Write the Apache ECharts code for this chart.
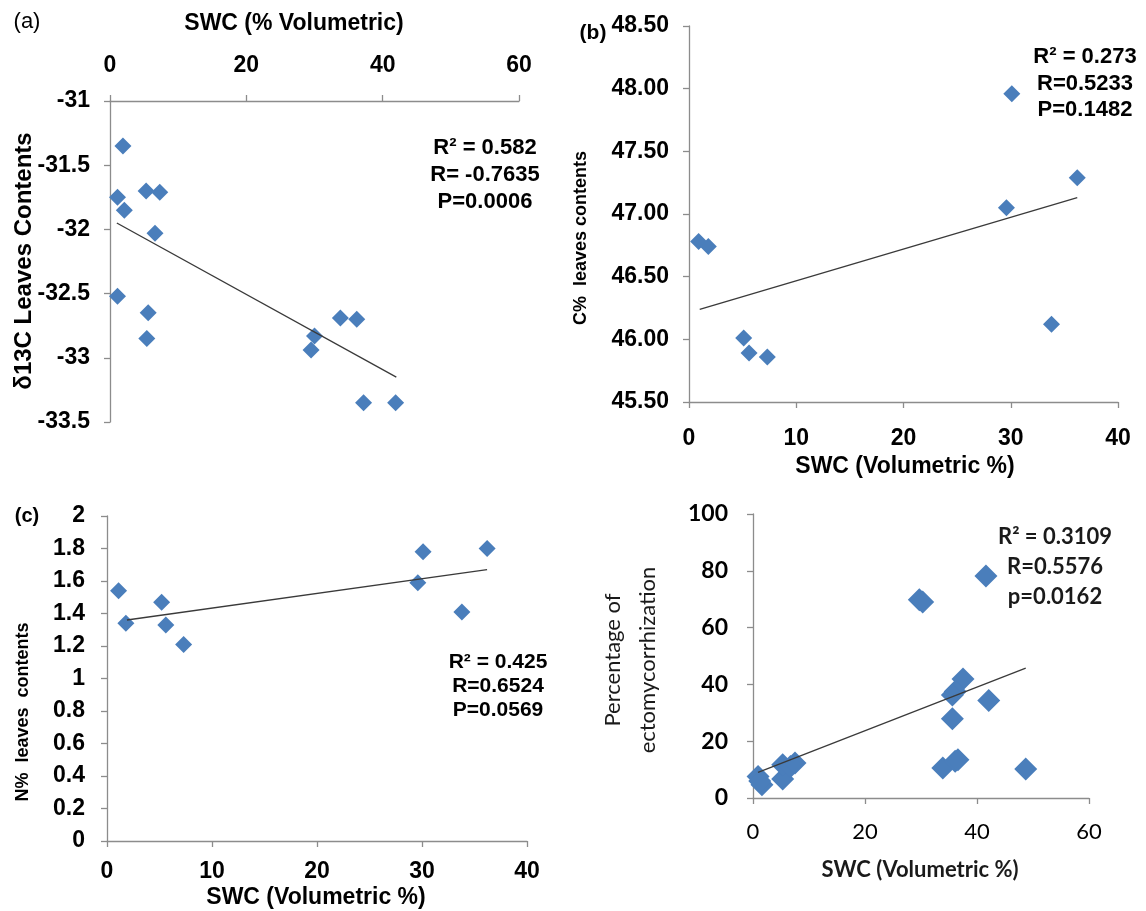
<!DOCTYPE html>
<html>
<head>
<meta charset="utf-8">
<script src="https://cdn.jsdelivr.net/npm/echarts@6/dist/echarts.min.js"></script>
<style>
html,body{margin:0;padding:0;background:#fff;}
#c{width:1146px;height:911px;}
</style>
</head>
<body>
<div id="c"></div>
<script>
// ---- Panel (a): delta13C vs SWC ----
const aSWC = [1.9, 1.1, 2.1, 5.3, 7.3, 6.6, 1.1, 5.6, 5.4, 33.8, 36.2, 30.0, 29.5, 37.2, 41.9];
const aD13C = [-31.35, -31.75, -31.85, -31.70, -31.71, -32.03, -32.52, -32.65, -32.85, -32.69, -32.70, -32.83, -32.94, -33.35, -33.35];
const aTrendX = [1.0, 42.0];
const aTrendY = [-31.95, -33.15];
const aStats = ["R\u00B2 = 0.582", "R= -0.7635", "P=0.0006"];

// ---- Panel (b): C% vs SWC ----
const bSWC = [0.9, 1.8, 30.1, 36.2, 29.6, 33.8, 5.1, 5.6, 7.3];
const bC = [46.78, 46.74, 47.96, 47.29, 47.05, 46.12, 46.01, 45.89, 45.86];
const bTrendX = [1.0, 36.2];
const bTrendY = [46.24, 47.13];
const bStats = ["R\u00B2 = 0.273", "R=0.5233", "P=0.1482"];

// ---- Panel (c): N% vs SWC ----
const cSWC = [1.1, 1.8, 5.2, 5.6, 7.3, 29.6, 30.1, 36.2, 33.8];
const cN = [1.54, 1.34, 1.47, 1.33, 1.21, 1.59, 1.78, 1.80, 1.41];
const cTrendX = [1.9, 36.2];
const cTrendY = [1.36, 1.67];
const cStats = ["R\u00B2 = 0.425", "R=0.6524", "P=0.0569"];

// ---- Panel (d): ectomycorrhization vs SWC ----
const dSWC = [0.9, 1.6, 1.2, 5.3, 5.3, 6.7, 7.5, 29.7, 30.3, 41.6, 37.5, 36.1, 35.6, 35.6, 42.1, 33.9, 36.1, 36.6, 48.7];
const dEcto = [7.6, 4.7, 6.0, 6.7, 11.7, 11.1, 12.3, 69.8, 69.0, 78.2, 41.9, 37.5, 36.3, 27.9, 34.3, 10.6, 12.9, 13.5, 10.2];
const dTrendX = [0.9, 48.7];
const dTrendY = [9.0, 45.7];
const dStats = ["R\u00B2 = 0.3109", "R=0.5576", "p=0.0162"];

const pts = (xs, ys) => xs.map((x, i) => [x, ys[i]]);

const ARIAL = '"Liberation Sans", Arial, sans-serif';
const CAL = 'Lato, "Open Sans", sans-serif';
const BLUE = '#4A7EBB';
const AXC = '#8c8c8c';

function axisCommon(fontFamily, bold, size, margin, fmt) {
  const lbl = {color: '#000', fontFamily: fontFamily, fontWeight: bold ? 'bold' : 'normal', fontSize: size, margin: margin};
  if (fmt) lbl.formatter = fmt;
  return {
    axisLine: {show: true, lineStyle: {color: AXC, width: 1.3}},
    axisTick: {show: true, length: 6, lineStyle: {color: AXC, width: 1.3}},
    splitLine: {show: false},
    axisLabel: lbl
  };
}

const chart = echarts.init(document.getElementById('c'));

function text(t, x, y, size, family, opts) {
  opts = opts || {};
  return {
    type: 'text', x: x, y: y, rotation: opts.rot || 0, z: 100,
    style: {
      text: t, fontSize: size, fontFamily: family,
      fontWeight: opts.normal ? 'normal' : 'bold',
      fill: opts.color || '#000', align: opts.align || 'center', verticalAlign: 'middle',
      lineHeight: opts.lh || size * 1.2
    }
  };
}

const graphics = [];
graphics.push(text('(a)', 27, 22, 22, ARIAL, {normal: true}));
graphics.push(text('SWC (% Volumetric)', 294, 24, 23, ARIAL));
graphics.push(text('\u03B413C Leaves Contents', 24, 261, 24, ARIAL, {rot: Math.PI / 2}));
aStats.forEach((s, i) => graphics.push(text(s, 485, 148 + i * 27, 22, ARIAL)));

graphics.push(text('(b)', 593, 33, 21, ARIAL));
graphics.push(text('C%  leaves contents', 581, 238, 18, ARIAL, {rot: Math.PI / 2}));
graphics.push(text('SWC (Volumetric %)', 905, 467, 23, ARIAL));
bStats.forEach((s, i) => graphics.push(text(s, 1085, 57 + i * 26.5, 22, ARIAL)));

graphics.push(text('(c)', 27, 516, 20, ARIAL));
graphics.push(text('N%  leaves  contents', 23, 712, 18, ARIAL, {rot: Math.PI / 2}));
graphics.push(text('SWC (Volumetric %)', 316, 898, 23, ARIAL));
cStats.forEach((s, i) => graphics.push(text(s, 498, 662 + i * 24, 21, ARIAL)));

graphics.push(text('Percentage of\nectomycorrhization', 630, 660, 22, CAL, {rot: Math.PI / 2, normal: true, lh: 35, color: '#1a1a1a'}));
graphics.push(text('SWC (Volumetric %)', 920, 870, 22, CAL, {color: '#1a1a1a'}));
dStats.forEach((s, i) => graphics.push(text(s, 1055, 537 + i * 30, 22, CAL, {color: '#1a1a1a'})));

const opaque = {color: BLUE, opacity: 1};
const trendStyle = {color: '#3a3a3a', width: 1.3};

const option = {
  animation: false,
  backgroundColor: '#fff',
  grid: [
    {left: 110, top: 101, width: 409, height: 321},
    {left: 689, top: 26, width: 429, height: 376},
    {left: 107, top: 516, width: 420, height: 325},
    {left: 753, top: 514, width: 336, height: 284}
  ],
  xAxis: [
    Object.assign({gridIndex: 0, type: 'value', position: 'top', min: 0, max: 60, interval: 20}, axisCommon(ARIAL, true, 23, 24)),
    Object.assign({gridIndex: 1, type: 'value', min: 0, max: 40, interval: 10}, axisCommon(ARIAL, true, 23, 25)),
    Object.assign({gridIndex: 2, type: 'value', min: 0, max: 40, interval: 10}, axisCommon(ARIAL, true, 23, 19)),
    Object.assign({gridIndex: 3, type: 'value', min: 0, max: 60, interval: 20}, axisCommon(CAL, false, 22, 23))
  ],
  yAxis: [
    Object.assign({gridIndex: 0, type: 'value', min: -33.5, max: -31, interval: 0.5}, axisCommon(ARIAL, true, 23, 20)),
    Object.assign({gridIndex: 1, type: 'value', min: 45.5, max: 48.5, interval: 0.5}, axisCommon(ARIAL, true, 23, 20, v => v.toFixed(2))),
    Object.assign({gridIndex: 2, type: 'value', min: 0, max: 2, interval: 0.2}, axisCommon(ARIAL, true, 23, 22)),
    Object.assign({gridIndex: 3, type: 'value', min: 0, max: 100, interval: 20}, axisCommon(CAL, true, 23, 25))
  ],
  graphic: graphics,
  series: [
    {type: 'scatter', xAxisIndex: 0, yAxisIndex: 0, symbol: 'diamond', symbolSize: 17, itemStyle: opaque, data: pts(aSWC, aD13C)},
    {type: 'line', xAxisIndex: 0, yAxisIndex: 0, showSymbol: false, symbol: 'none', lineStyle: trendStyle, data: pts(aTrendX, aTrendY), z: 5},
    {type: 'scatter', xAxisIndex: 1, yAxisIndex: 1, symbol: 'diamond', symbolSize: 17, itemStyle: opaque, data: pts(bSWC, bC)},
    {type: 'line', xAxisIndex: 1, yAxisIndex: 1, showSymbol: false, symbol: 'none', lineStyle: trendStyle, data: pts(bTrendX, bTrendY), z: 5},
    {type: 'scatter', xAxisIndex: 2, yAxisIndex: 2, symbol: 'diamond', symbolSize: 17, itemStyle: opaque, data: pts(cSWC, cN)},
    {type: 'line', xAxisIndex: 2, yAxisIndex: 2, showSymbol: false, symbol: 'none', lineStyle: trendStyle, data: pts(cTrendX, cTrendY), z: 5},
    {type: 'scatter', xAxisIndex: 3, yAxisIndex: 3, symbol: 'diamond', symbolSize: 23, itemStyle: opaque, data: pts(dSWC, dEcto)},
    {type: 'line', xAxisIndex: 3, yAxisIndex: 3, showSymbol: false, symbol: 'none', lineStyle: trendStyle, data: pts(dTrendX, dTrendY), z: 5}
  ]
};
chart.setOption(option);
</script>
</body>
</html>
